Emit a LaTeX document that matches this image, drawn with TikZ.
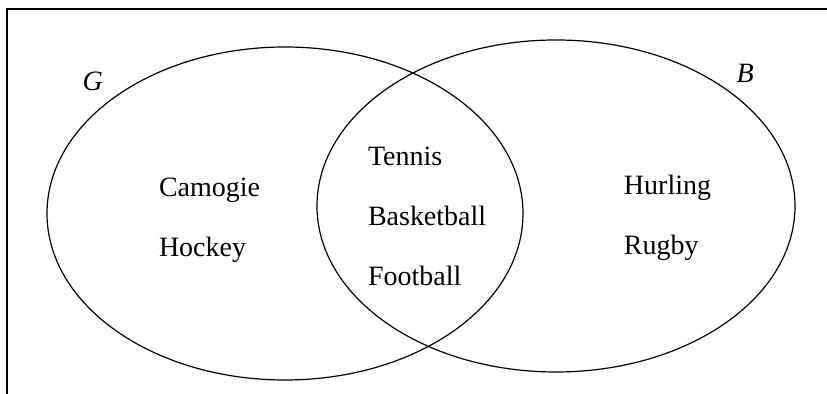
\documentclass[tikz,border=0pt]{standalone}
\usepackage{fontspec}
\setmainfont{Liberation Serif}
\usetikzlibrary{shapes}
\newcommand\sport[3]{\node(#1)[sport,below of=#2]{#3};}

\begin{document}
\begin{tikzpicture}[x=0.5pt,y=-0.5pt,line width=0.6pt,
    sport/.style={text width=70pt,align=left,inner sep=0pt,text height=10pt,text depth=3pt,font=\fontsize{14}{16}\selectfont},
    set/.style={ellipse,draw,inner sep=0pt},node distance=30pt]
    \useasboundingbox (0,0) rectangle (827,394);
    \draw (7,394) -- (7,9) -- (827,9);
    \node(sG)[set,minimum width=238pt,minimum height=166.5pt] at (285,213.5) {};
    \node(sB)[set,minimum width=239pt,minimum height=166pt] at (556,206) {};
    \node(lG)[anchor=base west,inner sep=0pt,font=\fontsize{14}{16}\selectfont] at (82,91) {\textit{G}};
    \node(lB)[anchor=base west,inner sep=0pt,font=\fontsize{14}{16}\selectfont] at (736,83) {\textit{B}};
    \node(g1)[sport] at (229,190) {Camogie}; \sport{g2}{g1}{Hockey}
    \node(m1)[sport] at (438,159) {Tennis};  \sport{m2}{m1}{Basketball} \sport{m3}{m2}{Football}
    \node(b1)[sport] at (694,188) {Hurling}; \sport{b2}{b1}{Rugby}
\end{tikzpicture}
\end{document}
